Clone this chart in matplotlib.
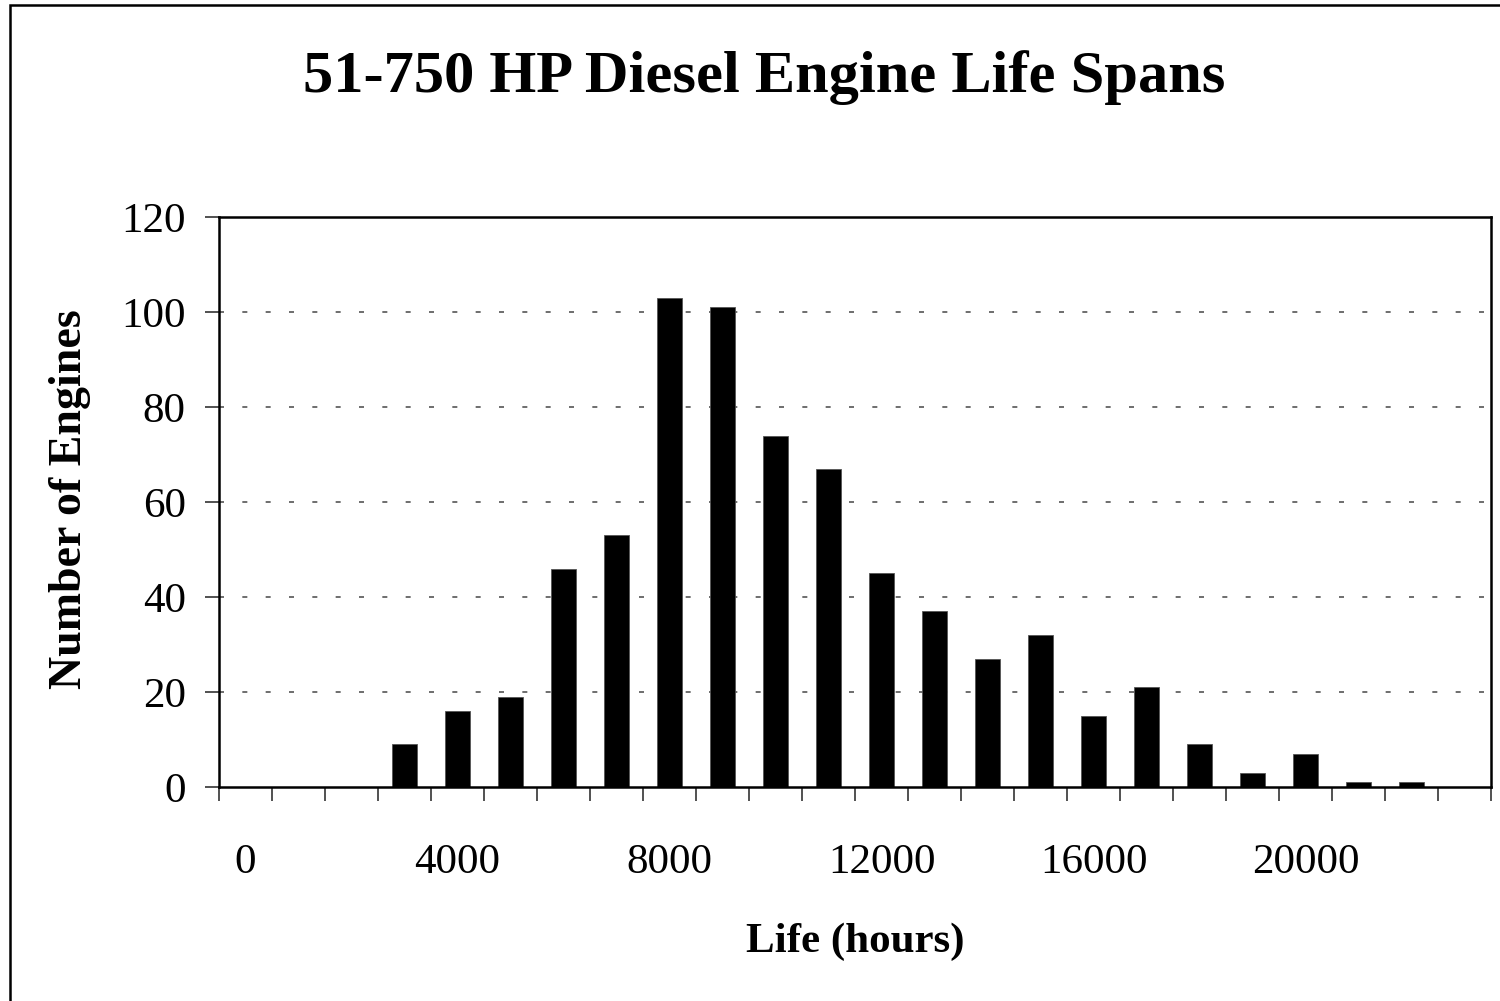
import numpy as np
import matplotlib
matplotlib.use("Agg")
import matplotlib.pyplot as plt
from matplotlib.patches import Rectangle
from matplotlib.ticker import FixedLocator, NullFormatter

# engine life bins (hours) and counts
hours = [0, 1000, 2000, 3000, 4000, 5000, 6000, 7000, 8000, 9000, 10000, 11000,
         12000, 13000, 14000, 15000, 16000, 17000, 18000, 19000, 20000, 21000,
         22000, 23000]
engines = [0, 0, 0, 9, 16, 19, 46, 53, 103, 101, 74, 67,
           45, 37, 27, 32, 15, 21, 9, 3, 7, 1, 1, 0]
label_hours = [0, 4000, 8000, 12000, 16000, 20000]
y_ticks = [0, 20, 40, 60, 80, 100, 120]
grid_levels = [20, 40, 60, 80, 100]

plt.rcParams["font.family"] = ["Liberation Serif", "DejaVu Serif"]

W, H = 1500, 1001
fig = plt.figure(figsize=(W / 100, H / 100), dpi=100)
ax = fig.add_axes([219 / W, 1 - 787 / H, (1491 - 219) / W, (787 - 217) / H])

pos = np.arange(len(hours))
ax.bar(pos, engines, width=0.46, color="black", edgecolor="#555555",
       linewidth=0.6, zorder=3)

ax.set_xlim(-0.5, len(hours) - 0.5)
ax.set_ylim(0, 120)

# dotted horizontal grid
for g in grid_levels:
    ax.axhline(g, color="#555555", lw=1.2, dashes=(3, 11), zorder=1)

# ticks at category boundaries, labels every 4th category
ax.xaxis.set_major_locator(FixedLocator(np.arange(len(hours) + 1) - 0.5))
ax.xaxis.set_major_formatter(NullFormatter())
ax.xaxis.set_minor_locator(FixedLocator([hours.index(h) for h in label_hours]))
ax.set_xticklabels([str(h) for h in label_hours], minor=True)
ax.tick_params(axis="x", which="major", direction="out", length=10, width=1.2,
               color="#333333")
ax.tick_params(axis="x", which="minor", length=0, pad=41, labelsize=31)

ax.set_yticks(y_ticks)
ax.tick_params(axis="y", direction="out", length=10, width=1.2, pad=14,
               labelsize=31, color="#333333")

for s in ax.spines.values():
    s.set_linewidth(1.8)
    s.set_color("black")
    s.set_zorder(4)

ax.set_xlabel("Life (hours)", fontsize=31, fontweight="bold")
ax.set_ylabel("Number of Engines", fontsize=33, fontweight="bold")
ax.xaxis.set_label_coords((855 - 219) / 1272, (787 - 942) / 570)
ax.yaxis.set_label_coords((70 - 219) / 1272, (787 - 499) / 570)
ax.xaxis.label.set_va("center")
ax.yaxis.label.set_va("center")

fig.text(764 / W, 1 - 78 / H, "51-750 HP Diesel Engine Life Spans",
         fontsize=43.5, fontweight="bold", ha="center", va="center")

# outer frame of the chart area
fig.patches.append(Rectangle((10 / W, -0.05), 1.2, 1 - 5 / H + 0.05,
                             transform=fig.transFigure, fill=False,
                             lw=1.8, ec="black"))

fig.savefig("out.png", dpi=100)
